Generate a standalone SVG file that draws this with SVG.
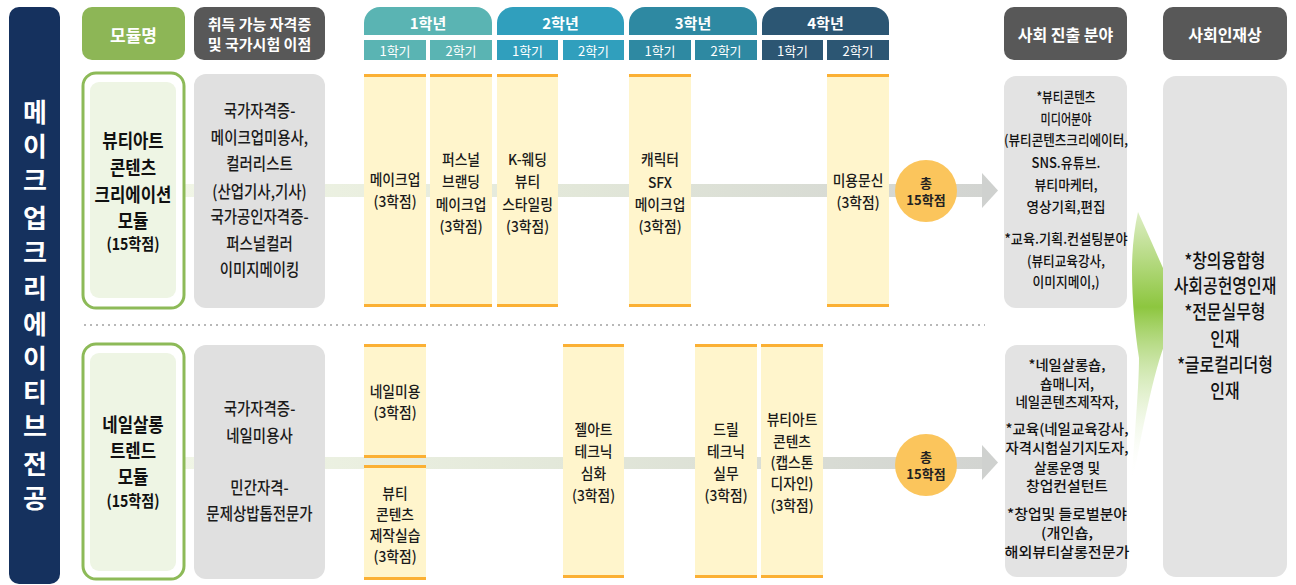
<svg xmlns="http://www.w3.org/2000/svg" width="1296" height="585" viewBox="0 0 1296 585">
<defs>
<linearGradient id="bandGrad" x1="0" y1="0" x2="1" y2="0">
<stop offset="0" stop-color="#f1f6e6"/>
<stop offset="0.5" stop-color="#e2e7d9"/>
<stop offset="1" stop-color="#d2d4d1"/>
</linearGradient>
<linearGradient id="greenGrad" gradientUnits="userSpaceOnUse" x1="0" y1="214" x2="0" y2="480">
<stop offset="0" stop-color="#dcedc2"/>
<stop offset="0.35" stop-color="#8dc63f"/>
<stop offset="1" stop-color="#ffffff" stop-opacity="0"/>
</linearGradient>
<style>
text{font-family:"Noto Sans CJK KR","Noto Sans",sans-serif;text-anchor:middle;dominant-baseline:central;fill:#222}
.w{fill:#fff}
.hd{font-size:16px;font-weight:700;fill:#fff}
.yr{font-size:15px;font-weight:700;fill:#fff}
.sm{font-size:13px;fill:#fff}
.mt{font-size:19px;font-weight:700;fill:#111}
.mc{font-size:16px;font-weight:700;fill:#111}
.ct{font-size:17px;font-weight:500;fill:#1a1a1a}
.cs{font-size:15px;font-weight:500;fill:#1a1a1a}
.rt{font-size:14px;font-weight:500;fill:#111}
.pr{font-size:19px;font-weight:500;fill:#111}
.tot{font-size:13px;font-weight:700;fill:#222}
.course{fill:#fff5cc}
.ob{fill:#fbb034}
.gbox{fill:#e0e0e0}
.rbox{fill:#e3e3e3}
.mout{fill:#fff;stroke:#8dba58;stroke-width:3}
.min{fill:#eef5e4}
</style>
</defs>
<rect width="1296" height="585" fill="#fff"/>

<!-- vertical title bar -->
<g id="major-title">
<rect x="9" y="7" width="51" height="577" rx="10" fill="#15315e"/>
<g style="font-size:26px;font-weight:700">
<text class="w" x="35" y="110">메</text>
<text class="w" x="35" y="144">이</text>
<text class="w" x="35" y="178">크</text>
<text class="w" x="35" y="216">업</text>
<text class="w" x="35" y="250">크</text>
<text class="w" x="35" y="286">리</text>
<text class="w" x="35" y="322">에</text>
<text class="w" x="35" y="356">이</text>
<text class="w" x="35" y="390">티</text>
<text class="w" x="35" y="424">브</text>
<text class="w" x="35" y="462">전</text>
<text class="w" x="35" y="496">공</text>
</g>
</g>

<!-- headers -->
<g id="hdr-module">
<rect x="82" y="7" width="103" height="53" rx="10" fill="#8db656"/>
<text class="hd" x="133.5" y="34" style="font-size:17px">모듈명</text>
</g>
<g id="hdr-cert">
<rect x="194" y="7" width="131" height="53" rx="10" fill="#585858"/>
<text class="hd" x="259.5" y="23" style="font-size:15px">취득 가능 자격증</text>
<text class="hd" x="259.5" y="43" style="font-size:15px">및 국가시험 이점</text>
</g>
<g id="hdr-year1">
<path d="M364 35V23A16 16 0 0 1 380 7H476A16 16 0 0 1 492 23V35Z" fill="#5ab4b3"/>
<text class="yr" x="428" y="22">1학년</text>
<rect x="364" y="40" width="62" height="20" fill="#5ab4b3"/>
<text class="sm" x="395" y="50">1학기</text>
<rect x="430" y="40" width="62" height="20" fill="#5ab4b3"/>
<text class="sm" x="461" y="50">2학기</text>
</g>
<g id="hdr-year2">
<path d="M497 35V23A16 16 0 0 1 513 7H608A16 16 0 0 1 624 23V35Z" fill="#309fbd"/>
<text class="yr" x="560.5" y="22">2학년</text>
<rect x="497" y="40" width="61" height="20" fill="#309fbd"/>
<text class="sm" x="527.5" y="50">1학기</text>
<rect x="563" y="40" width="61" height="20" fill="#309fbd"/>
<text class="sm" x="593.5" y="50">2학기</text>
</g>
<g id="hdr-year3">
<path d="M629 35V23A16 16 0 0 1 645 7H741A16 16 0 0 1 757 23V35Z" fill="#2e89a2"/>
<text class="yr" x="693" y="22">3학년</text>
<rect x="629" y="40" width="62" height="20" fill="#2e89a2"/>
<text class="sm" x="660" y="50">1학기</text>
<rect x="695" y="40" width="62" height="20" fill="#2e89a2"/>
<text class="sm" x="726" y="50">2학기</text>
</g>
<g id="hdr-year4">
<path d="M762 35V23A16 16 0 0 1 778 7H873A16 16 0 0 1 889 23V35Z" fill="#2c5673"/>
<text class="yr" x="825.5" y="22">4학년</text>
<rect x="762" y="40" width="61" height="20" fill="#2c5673"/>
<text class="sm" x="792.5" y="50">1학기</text>
<rect x="827" y="40" width="62" height="20" fill="#2c5673"/>
<text class="sm" x="858" y="50">2학기</text>
</g>
<g id="hdr-career">
<rect x="1004" y="7" width="123" height="53" rx="10" fill="#585858"/>
<text class="hd" x="1065.5" y="34">사회 진출 분야</text>
</g>
<g id="hdr-talent">
<rect x="1163" y="7" width="124" height="53" rx="10" fill="#585858"/>
<text class="hd" x="1225" y="34">사회인재상</text>
</g>

<!-- connectors -->
<g id="connectors">
<line x1="84" y1="325" x2="985" y2="325" stroke="#b8b8b8" stroke-width="2" stroke-dasharray="2 4"/>
<rect x="176" y="184" width="806" height="13" fill="url(#bandGrad)"/>
<polygon points="982,173 998,190.5 982,208" fill="#cfd1cf"/>
<rect x="176" y="457" width="806" height="12" fill="url(#bandGrad)"/>
<polygon points="982,445 998,462.5 982,480" fill="#cfd1cf"/>
<path d="M1138 212C1150 238 1160 262 1172 288L1172 328C1158 352 1146 410 1131 490C1135 430 1139 385 1139 358C1135 332 1132 300 1132 270C1132 250 1134 230 1138 212Z" fill="url(#greenGrad)"/>
</g>

<!-- module 1 -->
<g id="module1">
<rect class="mout" x="83" y="73" width="101" height="235" rx="13"/>
<rect class="min" x="90" y="82" width="86" height="216" rx="9"/>
<g transform="translate(133 0) scale(0.88 1)">
<text class="mt" x="0" y="140">뷰티아트</text>
<text class="mt" x="0" y="167">콘텐츠</text>
<text class="mt" x="0" y="194">크리에이션</text>
<text class="mt" x="0" y="220">모듈</text>
<text class="mc" x="0" y="243">(15학점)</text>
</g>
</g>
<g id="cert1">
<rect class="gbox" x="194" y="74" width="131" height="234" rx="12"/>
<g transform="translate(259.5 0) scale(0.85 1)">
<text class="ct" x="0" y="110">국가자격증-</text>
<text class="ct" x="0" y="137">메이크업미용사,</text>
<text class="ct" x="0" y="163">컬러리스트</text>
<text class="ct" x="0" y="191">(산업기사,기사)</text>
<text class="ct" x="0" y="216">국가공인자격증-</text>
<text class="ct" x="0" y="243">퍼스널컬러</text>
<text class="ct" x="0" y="269">이미지메이킹</text>
</g>
</g>

<!-- module 2 -->
<g id="module2">
<rect class="mout" x="83" y="344" width="101" height="235" rx="13"/>
<rect class="min" x="90" y="353" width="86" height="218" rx="9"/>
<g transform="translate(133 0) scale(0.88 1)">
<text class="mt" x="0" y="424">네일살롱</text>
<text class="mt" x="0" y="450">트렌드</text>
<text class="mt" x="0" y="476">모듈</text>
<text class="mc" x="0" y="500">(15학점)</text>
</g>
</g>
<g id="cert2">
<rect class="gbox" x="194" y="345" width="131" height="234" rx="12"/>
<g transform="translate(259.5 0) scale(0.85 1)">
<text class="ct" x="0" y="408">국가자격증-</text>
<text class="ct" x="0" y="435">네일미용사</text>
<text class="ct" x="0" y="487">민간자격-</text>
<text class="ct" x="0" y="513">문제상밥톱전문가</text>
</g>
</g>

<!-- courses row 1 -->
<g id="c-makeup">
<rect class="course" x="364" y="74" width="62" height="233"/>
<rect class="ob" x="364" y="74" width="62" height="3"/><rect class="ob" x="364" y="304" width="62" height="3"/>
<g transform="translate(395 0) scale(0.92 1)">
<text class="cs" x="0" y="178">메이크업</text>
<text class="cs" x="0" y="200">(3학점)</text>
</g>
</g>
<g id="c-personal">
<rect class="course" x="430" y="74" width="62" height="233"/>
<rect class="ob" x="430" y="74" width="62" height="3"/><rect class="ob" x="430" y="304" width="62" height="3"/>
<g transform="translate(461 0) scale(0.92 1)">
<text class="cs" x="0" y="158">퍼스널</text>
<text class="cs" x="0" y="180">브랜딩</text>
<text class="cs" x="0" y="203">메이크업</text>
<text class="cs" x="0" y="225">(3학점)</text>
</g>
</g>
<g id="c-wedding">
<rect class="course" x="497" y="74" width="61" height="233"/>
<rect class="ob" x="497" y="74" width="61" height="3"/><rect class="ob" x="497" y="304" width="61" height="3"/>
<g transform="translate(527.5 0) scale(0.92 1)">
<text class="cs" x="0" y="158">K-웨딩</text>
<text class="cs" x="0" y="180">뷰티</text>
<text class="cs" x="0" y="203">스타일링</text>
<text class="cs" x="0" y="225">(3학점)</text>
</g>
</g>
<g id="c-sfx">
<rect class="course" x="629" y="74" width="62" height="233"/>
<rect class="ob" x="629" y="74" width="62" height="3"/><rect class="ob" x="629" y="304" width="62" height="3"/>
<g transform="translate(660 0) scale(0.92 1)">
<text class="cs" x="0" y="158">캐릭터</text>
<text class="cs" x="0" y="181">SFX</text>
<text class="cs" x="0" y="203">메이크업</text>
<text class="cs" x="0" y="225">(3학점)</text>
</g>
</g>
<g id="c-tattoo">
<rect class="course" x="827" y="74" width="62" height="233"/>
<rect class="ob" x="827" y="74" width="62" height="3"/><rect class="ob" x="827" y="304" width="62" height="3"/>
<g transform="translate(858 0) scale(0.92 1)">
<text class="cs" x="0" y="179">미용문신</text>
<text class="cs" x="0" y="201">(3학점)</text>
</g>
</g>
<g id="total1">
<circle cx="926" cy="191" r="31" fill="#fbc55c"/>
<text class="tot" x="926" y="182">총</text>
<text class="tot" x="926" y="199">15학점</text>
</g>

<!-- courses row 2 -->
<g id="c-nail">
<rect class="course" x="364" y="344" width="62" height="114"/>
<rect class="ob" x="364" y="344" width="62" height="3"/><rect class="ob" x="364" y="455" width="62" height="3"/>
<g transform="translate(395 0) scale(0.92 1)">
<text class="cs" x="0" y="390">네일미용</text>
<text class="cs" x="0" y="411">(3학점)</text>
</g>
</g>
<g id="c-content">
<rect class="course" x="364" y="465" width="62" height="115"/>
<rect class="ob" x="364" y="465" width="62" height="3"/><rect class="ob" x="364" y="577" width="62" height="3"/>
<g transform="translate(395 0) scale(0.92 1)">
<text class="cs" x="0" y="492">뷰티</text>
<text class="cs" x="0" y="513">콘텐츠</text>
<text class="cs" x="0" y="534">제작실습</text>
<text class="cs" x="0" y="555">(3학점)</text>
</g>
</g>
<g id="c-gel">
<rect class="course" x="563" y="344" width="61" height="234"/>
<rect class="ob" x="563" y="344" width="61" height="3"/><rect class="ob" x="563" y="575" width="61" height="3"/>
<g transform="translate(593.5 0) scale(0.92 1)">
<text class="cs" x="0" y="428">젤아트</text>
<text class="cs" x="0" y="450">테크닉</text>
<text class="cs" x="0" y="472">심화</text>
<text class="cs" x="0" y="494">(3학점)</text>
</g>
</g>
<g id="c-drill">
<rect class="course" x="695" y="344" width="62" height="234"/>
<rect class="ob" x="695" y="344" width="62" height="3"/><rect class="ob" x="695" y="575" width="62" height="3"/>
<g transform="translate(726 0) scale(0.92 1)">
<text class="cs" x="0" y="428">드릴</text>
<text class="cs" x="0" y="450">테크닉</text>
<text class="cs" x="0" y="472">실무</text>
<text class="cs" x="0" y="494">(3학점)</text>
</g>
</g>
<g id="c-capstone">
<rect class="course" x="761" y="344" width="62" height="234"/>
<rect class="ob" x="761" y="344" width="62" height="3"/><rect class="ob" x="761" y="575" width="62" height="3"/>
<g transform="translate(792 0) scale(0.92 1)">
<text class="cs" x="0" y="418">뷰티아트</text>
<text class="cs" x="0" y="440">콘텐츠</text>
<text class="cs" x="0" y="461">(캡스톤</text>
<text class="cs" x="0" y="482">디자인)</text>
<text class="cs" x="0" y="504">(3학점)</text>
</g>
</g>
<g id="total2">
<circle cx="926" cy="465" r="31" fill="#fbc55c"/>
<text class="tot" x="926" y="456">총</text>
<text class="tot" x="926" y="473">15학점</text>
</g>

<!-- career boxes -->
<g id="career1">
<rect class="rbox" x="1004" y="76" width="123" height="232" rx="12"/>
<text class="rt" x="1066" y="96" textLength="59" lengthAdjust="spacingAndGlyphs">*뷰티콘텐츠</text>
<text class="rt" x="1066" y="117.5" textLength="51" lengthAdjust="spacingAndGlyphs">미디어분야</text>
<text class="rt" x="1066" y="139" textLength="124" lengthAdjust="spacingAndGlyphs">(뷰티콘텐츠크리에이터,</text>
<text class="rt" x="1066" y="161.5" textLength="69" lengthAdjust="spacingAndGlyphs">SNS.유튜브.</text>
<text class="rt" x="1066" y="183.5" textLength="63" lengthAdjust="spacingAndGlyphs">뷰티마케터,</text>
<text class="rt" x="1066" y="205.5" textLength="79" lengthAdjust="spacingAndGlyphs">영상기획,편집</text>
<text class="rt" x="1066" y="237.5" textLength="123" lengthAdjust="spacingAndGlyphs">*교육.기획.컨설팅분야</text>
<text class="rt" x="1066" y="259.5" textLength="78" lengthAdjust="spacingAndGlyphs">(뷰티교육강사,</text>
<text class="rt" x="1066" y="280.5" textLength="67" lengthAdjust="spacingAndGlyphs">이미지메이,)</text>
</g>
<g id="career2">
<rect class="rbox" x="1005" y="345" width="122" height="232" rx="12"/>
<text class="rt" x="1067" y="364" textLength="77" lengthAdjust="spacingAndGlyphs">*네일살롱숍,</text>
<text class="rt" x="1067" y="382.5" textLength="54" lengthAdjust="spacingAndGlyphs">숍매니저,</text>
<text class="rt" x="1067" y="400.5" textLength="103" lengthAdjust="spacingAndGlyphs">네일콘텐츠제작자,</text>
<text class="rt" x="1067" y="428" textLength="123" lengthAdjust="spacingAndGlyphs">*교육(네일교육강사,</text>
<text class="rt" x="1067" y="447" textLength="123" lengthAdjust="spacingAndGlyphs">자격시험실기지도자,</text>
<text class="rt" x="1067" y="467" textLength="66" lengthAdjust="spacingAndGlyphs">살롱운영 및</text>
<text class="rt" x="1067" y="485" textLength="82" lengthAdjust="spacingAndGlyphs">창업컨설턴트</text>
<text class="rt" x="1067" y="513" textLength="120" lengthAdjust="spacingAndGlyphs">*창업및 들로벌분야</text>
<text class="rt" x="1067" y="532" textLength="52" lengthAdjust="spacingAndGlyphs">(개인숍,</text>
<text class="rt" x="1067" y="551" textLength="125" lengthAdjust="spacingAndGlyphs">해외뷰티살롱전문가</text>
</g>

<!-- talent box -->
<g id="talent">
<rect class="rbox" x="1163" y="76" width="124" height="501" rx="13"/>
<g transform="translate(1225 0) scale(0.84 1)">
<text class="pr" x="0" y="260">*창의융합형</text>
<text class="pr" x="0" y="285">사회공헌영인재</text>
<text class="pr" x="0" y="311">*전문실무형</text>
<text class="pr" x="0" y="338">인재</text>
<text class="pr" x="0" y="364">*글로컬리더형</text>
<text class="pr" x="0" y="390">인재</text>
</g>
</g>
</svg>
